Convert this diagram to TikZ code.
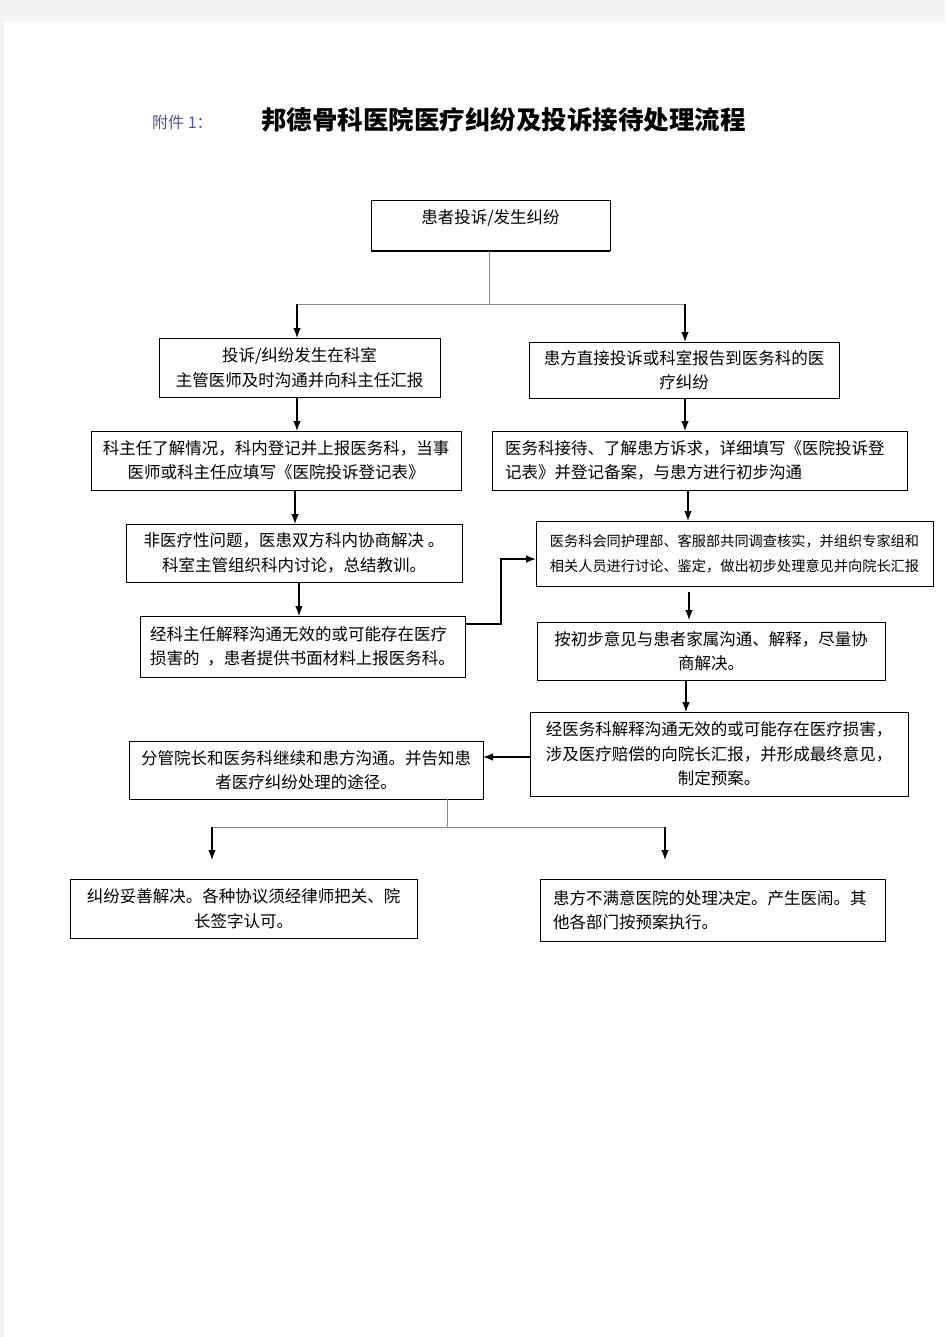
\documentclass[tikz,border=0pt]{standalone}
\usepackage{fontspec}
\newfontfamily\cjk{Noto Sans CJK SC}
\usetikzlibrary{arrows.meta}
\definecolor{pagegray}{HTML}{F4F4F4}
\definecolor{connector}{HTML}{8A8A8A}
\definecolor{annex}{HTML}{4A5690}
\tikzset{
  box/.style={draw=black, line width=1pt, inner sep=0pt, outer sep=0pt,
    font=\cjk\fontsize{16.5}{24.5}\selectfont, align=center},
  smallbox/.style={box, font=\cjk\fontsize{14.2}{25}\selectfont},
  arr/.style={draw=black, line width=1.2pt, -{Latex[length=10pt,width=7.5pt]}},
  trunk/.style={draw=connector, line width=1pt},
  shadowline/.style={draw=black, line width=1.6pt}
}
\begin{document}
\begin{tikzpicture}[x=1pt,y=-1pt]
\useasboundingbox (0,0) rectangle (945,1337);
\fill[pagegray] (0,0) rectangle (945,1337);
\fill[white] (4,22) rectangle (945,1337);

% title
\node[anchor=west, inner sep=0, text=annex, font=\cjk\fontsize{16}{18}\selectfont] (annexlbl) at (152,122) {附件 1：};
\node[anchor=west, inner sep=0, font=\cjk\bfseries\fontsize{25.5}{28}\selectfont] (title) at (261,120) {邦德骨科医院医疗纠纷及投诉接待处理流程};

% boxes
\node[box, minimum width=239, minimum height=50] (top) at (490.5,226) {};
\node[inner sep=0, font=\cjk\fontsize{16.5}{24.5}\selectfont] (toplbl) at (490.5,218) {患者投诉/发生纠纷};

\node[box, minimum width=281, minimum height=59] (A) at (299.5,367.5) {投诉/纠纷发生在科室\\主管医师及时沟通并向科主任汇报};
\node[box, minimum width=310, minimum height=56] (B) at (684,370) {患方直接投诉或科室报告到医务科的医\\疗纠纷};
\node[box, minimum width=370, minimum height=59] (C) at (276,460.5) {科主任了解情况，科内登记并上报医务科，当事\\医师或科主任应填写《医院投诉登记表》};
\node[box, minimum width=415, minimum height=59, text width=389, align=left] (D) at (699.5,460.5) {医务科接待、了解患方诉求，详细填写《医院投诉登\\记表》并登记备案，与患方进行初步沟通};
\node[box, minimum width=336, minimum height=58] (E) at (294,553) {非医疗性问题，医患双方科内协商解决 。\\科室主管组织科内讨论，总结教训。};
\node[smallbox, minimum width=397, minimum height=65] (F) at (734.5,553.5) {医务科会同护理部、客服部共同调查核实，并组织专家组和\\相关人员进行讨论、鉴定，做出初步处理意见并向院长汇报};
\node[box, minimum width=325, minimum height=61, align=left] (G) at (302.5,646.5) {经科主任解释沟通无效的或可能存在医疗\\\mbox{损害的\hspace{8pt}，患者提供书面材料上报医务科。}};
\node[box, minimum width=348, minimum height=58] (H) at (711,651) {按初步意见与患者家属沟通、解释，尽量协\\商解决。};
\node[box, minimum width=378, minimum height=84] (I) at (719,754) {经医务科解释沟通无效的或可能存在医疗损害，\\涉及医疗赔偿的向院长汇报，并形成最终意见，\\制定预案。};
\node[box, minimum width=354, minimum height=58] (J) at (306,770) {分管院长和医务科继续和患方沟通。并告知患\\者医疗纠纷处理的途径。};
\node[box, minimum width=347, minimum height=59] (K) at (243.5,908.5) {纠纷妥善解决。各种协议须经律师把关、院\\长签字认可。};
\node[box, minimum width=345, minimum height=62, text width=319, align=left] (L) at (712.5,910) {患方不满意医院的处理决定。产生医闹。其\\他各部门按预案执行。};

% shadow-like heavier bottom edges
\foreach \n in {top,A,B,C,D,E,F,G,H,I,J,K,L}
  \draw[shadowline] ([yshift=-0.5pt]\n.south west) -- ([yshift=-0.5pt]\n.south east);
\foreach \n in {C,G,I,L}
  \draw[shadowline] ([xshift=0.5pt]\n.north east) -- ([xshift=0.5pt]\n.south east);

% top split
\coordinate (s1) at (489,304);
\coordinate (s1l) at (297,304);
\coordinate (s1r) at (685,304);
\draw[trunk] (top.south -| s1) -- (s1);
\draw[trunk] (s1l) -- (s1r);
\draw[arr] (s1l) -- (s1l |- A.north);
\draw[arr] (s1r) -- (s1r |- B.north);

% left column
\draw[arr] (A.south -| 297,0) -- (297,0 |- C.north);
\draw[arr] (C.south -| 295,0) -- (295,0 |- E.north);
\draw[arr] (E.south -| 299,0) -- (299,0 |- G.north);
\coordinate (gbend1) at (501,624);
\coordinate (gbend2) at (501,559);
\draw[arr] (G.east |- gbend1) -- (gbend1) -- (gbend2) -- (F.west |- gbend2);

% right column
\draw[arr] (B.south -| 685,0) -- (685,0 |- D.north);
\draw[arr] (D.south -| 688,0) -- (688,0 |- F.north);
\draw[arr, shorten <=6pt, shorten >=2pt] (F.south -| 689,0) -- (689,0 |- H.north);
\draw[arr] (H.south -| 686,0) -- (686,0 |- I.north);
\draw[arr] (I.west |- 0,757) -- (J.east |- 0,757);

% bottom split
\coordinate (s2) at (447,827);
\coordinate (s2l) at (212,827);
\coordinate (s2r) at (665,827);
\coordinate (k2) at (212,860);
\coordinate (l2) at (665,860);
\draw[trunk] (J.south -| s2) -- (s2);
\draw[trunk] (s2l) -- (s2r);
\draw[arr] (s2l) -- (k2);
\draw[arr] (s2r) -- (l2);
\end{tikzpicture}
\end{document}
